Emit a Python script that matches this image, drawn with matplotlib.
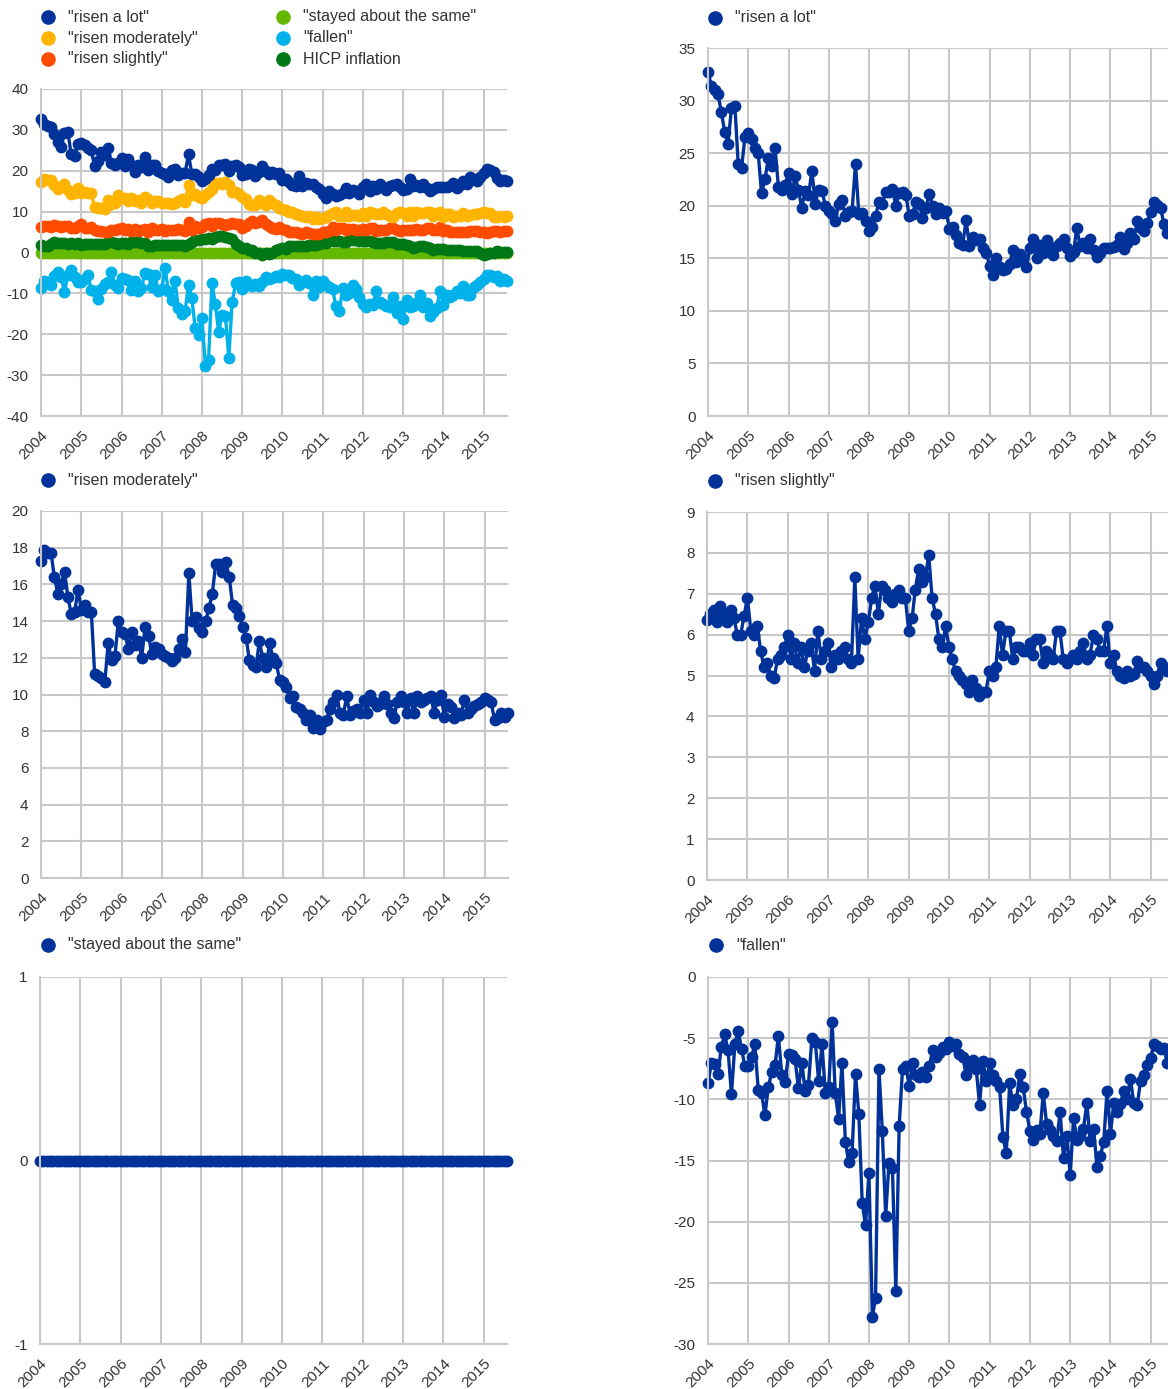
import numpy as np
import pandas as pd
import matplotlib
matplotlib.use("Agg")
import matplotlib.pyplot as plt
import matplotlib.transforms as mtransforms
from matplotlib.lines import Line2D

plt.rcParams['font.family'] = ['Liberation Sans', 'DejaVu Sans']

# monthly data, Jan 2004 - Aug 2015 (percentage balances)
dates = pd.date_range('2004-01-01', periods=140, freq='MS')
years = list(range(2004, 2016))

risen_a_lot = [
    32.7, 31.4, 31.0, 30.6, 28.9, 27.0, 25.9, 29.3, 29.5, 24.0, 23.6, 26.5,
    26.9, 26.3, 25.5, 25.0, 21.2, 22.5, 24.5, 23.8, 25.5, 21.8, 21.5, 22.0,
    23.1, 21.1, 22.8, 21.5, 19.8, 21.4, 21.0, 23.3, 20.2, 21.5, 21.4, 20.0,
    19.5, 19.2, 18.5, 20.2, 20.5, 19.0, 19.4, 19.5, 24.0, 19.2, 19.3, 18.5,
    17.6, 18.0, 19.0, 20.4, 20.2, 21.3, 21.3, 21.6, 20.0, 21.2, 21.3, 21.0,
    19.0, 19.2, 20.4, 20.2, 18.8, 19.8, 21.1, 20.0, 19.2, 19.8, 19.3, 19.5,
    17.8, 18.0, 17.2, 16.5, 16.3, 18.6, 16.2, 17.0, 16.7, 16.8, 16.0, 15.5,
    14.3, 13.4, 15.0, 14.2, 13.9, 14.0, 14.5, 15.8, 14.6, 15.4, 15.0, 14.2,
    16.0, 16.8, 15.0, 16.3, 15.5, 16.7, 16.0, 15.3, 16.2, 16.5, 16.8, 16.0,
    15.2, 15.6, 17.9, 16.2, 16.5, 16.0, 16.8, 15.8, 15.1, 15.5, 16.0, 16.0,
    16.0, 16.1, 16.3, 17.0, 15.9, 16.5, 17.4, 16.8, 18.5, 17.9, 17.6, 18.4,
    19.4, 20.4, 20.1, 19.8, 18.3, 17.4, 17.8, 17.6,
]

risen_moderately = [
    17.3, 17.9, 17.7, 17.7, 16.4, 15.5, 16.0, 16.7, 15.3, 14.4, 14.5, 15.7,
    14.6, 14.9, 14.5, 14.5, 11.1, 11.0, 10.9, 10.7, 12.8, 11.9, 12.1, 14.0,
    13.4, 13.3, 12.5, 13.4, 12.7, 12.9, 12.0, 13.7, 13.2, 12.2, 12.6, 12.5,
    12.2, 12.1, 12.0, 11.8, 12.0, 12.5, 13.0, 12.3, 16.6, 14.0, 14.2, 13.6,
    13.4, 14.0, 14.7, 15.5, 17.1, 17.1, 16.7, 17.2, 16.4, 14.9, 14.7, 14.3,
    13.7, 13.1, 11.9, 11.6, 11.5, 12.9, 12.0, 11.5, 12.8, 12.0, 11.7, 10.8,
    10.7, 10.4, 9.8, 9.9, 9.3, 9.2, 9.0, 8.6, 8.9, 8.2, 8.6, 8.1,
    8.5, 8.6, 9.2, 9.6, 10.0, 9.0, 8.9, 9.9, 8.9, 9.1, 9.2, 9.0,
    9.7, 9.0, 10.0, 9.6, 9.4, 9.5, 9.9, 9.5, 9.0, 8.7, 9.6, 9.9,
    9.6, 9.0, 9.8, 9.0, 9.9, 9.6, 9.7, 9.8, 9.9, 9.0, 9.7, 10.0,
    8.8, 9.5, 9.3, 8.7, 9.0, 8.9, 9.7, 9.0, 9.2, 9.4, 9.5, 9.6,
    9.8, 9.7, 9.6, 8.6, 8.7, 9.0, 8.8, 9.0,
]

risen_slightly = [
    6.35, 6.5, 6.6, 6.3, 6.7, 6.5, 6.3, 6.6, 6.4, 6.0, 6.0, 6.45,
    6.9, 6.1, 6.0, 6.2, 5.6, 5.2, 5.3, 5.0, 4.95, 5.4, 5.5, 5.7,
    6.0, 5.4, 5.8, 5.3, 5.7, 5.2, 5.6, 5.8, 5.1, 6.1, 5.4, 5.6,
    5.8, 5.2, 5.5, 5.4, 5.6, 5.7, 5.4, 5.3, 7.4, 5.4, 6.4, 5.9,
    6.3, 6.9, 7.2, 6.5, 7.2, 7.1, 6.9, 6.8, 7.0, 7.1, 6.9, 6.9,
    6.1, 6.4, 7.1, 7.6, 7.3, 7.4, 7.95, 6.9, 6.5, 5.9, 5.7, 6.2,
    5.7, 5.4, 5.1, 5.0, 4.9, 4.8, 4.6, 4.9, 4.7, 4.5, 4.6, 4.6,
    5.1, 5.0, 5.2, 6.2, 5.5, 6.1, 6.1, 5.4, 5.7, 5.7, 5.6, 5.6,
    5.8, 5.5, 5.9, 5.9, 5.3, 5.6, 5.5, 5.4, 6.1, 6.1, 5.4, 5.3,
    5.4, 5.5, 5.4, 5.6, 5.8, 5.4, 5.5, 6.0, 5.9, 5.6, 5.6, 6.2,
    5.3, 5.5, 5.1, 5.0, 4.95, 5.1, 5.0, 5.05, 5.35, 5.2, 5.2, 5.1,
    5.0, 4.8, 5.0, 5.3, 5.2, 5.1, 5.2, 5.2,
]

stayed_same = [
    0, 0, 0, 0, 0, 0, 0, 0, 0, 0, 0, 0,
    0, 0, 0, 0, 0, 0, 0, 0, 0, 0, 0, 0,
    0, 0, 0, 0, 0, 0, 0, 0, 0, 0, 0, 0,
    0, 0, 0, 0, 0, 0, 0, 0, 0, 0, 0, 0,
    0, 0, 0, 0, 0, 0, 0, 0, 0, 0, 0, 0,
    0, 0, 0, 0, 0, 0, 0, 0, 0, 0, 0, 0,
    0, 0, 0, 0, 0, 0, 0, 0, 0, 0, 0, 0,
    0, 0, 0, 0, 0, 0, 0, 0, 0, 0, 0, 0,
    0, 0, 0, 0, 0, 0, 0, 0, 0, 0, 0, 0,
    0, 0, 0, 0, 0, 0, 0, 0, 0, 0, 0, 0,
    0, 0, 0, 0, 0, 0, 0, 0, 0, 0, 0, 0,
    0, 0, 0, 0, 0, 0, 0, 0,
]

fallen = [
    -8.7, -7.0, -7.1, -7.9, -5.7, -4.7, -6.0, -9.6, -5.5, -4.4, -5.9, -7.3,
    -7.3, -6.5, -5.5, -9.2, -9.5, -11.3, -9.0, -7.8, -7.2, -4.8, -8.0, -8.6,
    -6.3, -6.4, -6.7, -9.1, -7.0, -9.3, -8.8, -5.0, -5.3, -8.5, -5.5, -9.5,
    -9.0, -3.7, -9.5, -11.6, -7.0, -13.5, -15.1, -14.4, -7.9, -11.2, -18.5, -20.3,
    -16.0, -27.8, -26.2, -7.5, -12.6, -19.5, -15.2, -15.6, -25.7, -12.2, -7.5, -7.3,
    -8.9, -7.0, -8.0, -8.2, -7.8, -8.2, -7.3, -6.0, -6.5, -6.2, -5.7, -5.9,
    -5.3, -5.6, -5.5, -6.3, -6.5, -8.0, -7.2, -6.8, -7.5, -10.5, -6.9, -8.5,
    -7.0, -8.0, -8.5, -9.0, -13.1, -14.4, -8.7, -10.5, -10.0, -7.9, -9.0, -11.0,
    -12.6, -13.3, -12.5, -12.8, -9.5, -12.0, -12.5, -13.0, -13.4, -11.0, -14.8, -13.0,
    -16.2, -11.5, -13.3, -13.0, -12.4, -10.3, -13.4, -12.4, -15.5, -14.6, -13.5, -9.3,
    -12.8, -10.3, -11.0, -10.4, -9.3, -10.0, -8.3, -10.3, -10.5, -8.5, -8.0, -7.2,
    -6.6, -5.5, -5.6, -5.9, -5.8, -7.0, -6.5, -7.0,
]

hicp = [
    1.9, 1.6, 1.7, 2.0, 2.5, 2.4, 2.3, 2.3, 2.1, 2.4, 2.2, 2.4,
    1.9, 2.1, 2.1, 2.1, 2.0, 2.1, 2.2, 2.2, 2.6, 2.5, 2.3, 2.2,
    2.4, 2.3, 2.2, 2.5, 2.5, 2.5, 2.4, 2.3, 1.7, 1.6, 1.9, 1.9,
    1.8, 1.8, 1.9, 1.9, 1.9, 1.9, 1.8, 1.7, 2.1, 2.6, 3.1, 3.1,
    3.2, 3.3, 3.6, 3.3, 3.7, 4.0, 4.0, 3.8, 3.6, 3.2, 2.1, 1.6,
    1.1, 1.2, 0.6, 0.6, 0.0, -0.1, -0.6, -0.2, -0.3, -0.1, 0.5, 0.9,
    1.0, 0.9, 1.6, 1.6, 1.7, 1.5, 1.7, 1.6, 1.9, 1.9, 1.9, 2.2,
    2.3, 2.4, 2.7, 2.8, 2.7, 2.7, 2.6, 2.6, 3.0, 3.0, 3.0, 2.7,
    2.7, 2.7, 2.7, 2.6, 2.4, 2.4, 2.4, 2.6, 2.6, 2.5, 2.2, 2.2,
    2.0, 1.8, 1.7, 1.2, 1.4, 1.6, 1.6, 1.3, 1.1, 0.7, 0.9, 0.8,
    0.8, 0.7, 0.5, 0.7, 0.5, 0.5, 0.4, 0.4, 0.3, 0.4, 0.3, -0.2,
    -0.6, -0.3, -0.1, 0.0, 0.3, 0.2, 0.2, 0.1,
]

labels = ['"risen a lot"', '"risen moderately"', '"risen slightly"',
          '"stayed about the same"', '"fallen"', 'HICP inflation']
colors = ['#003299', '#ffb400', '#ff4b00', '#65b800', '#00b1ea', '#007816']

DARK = '#003299'
GRID = '#c8c8c8'
TEXT = '#333333'

W, H = 1168, 1389
fig = plt.figure(figsize=(W / 100, H / 100), dpi=100)


def box(left, top, right, bottom):
    return [left / W, 1 - bottom / H, (right - left) / W, (bottom - top) / H]


def style(ax, yticks):
    ax.set_ylim(yticks[0], yticks[-1])
    ax.set_yticks(yticks)
    ax.set_yticklabels([str(t) for t in yticks])
    ax.set_xlim(dates[0], dates[-1])
    ax.set_xticks(pd.to_datetime([f'{y}-01-01' for y in years]))
    ax.set_xticklabels([str(y) for y in years], rotation=45, ha='right',
                       va='top', rotation_mode='anchor')
    offset = mtransforms.ScaledTranslation(5 / 100, 0, fig.dpi_scale_trans)
    for lab in ax.get_xticklabels():
        lab.set_transform(lab.get_transform() + offset)
    ax.grid(True, color=GRID, lw=1.5)
    ax.set_axisbelow(True)
    for s in ['top', 'right']:
        ax.spines[s].set_visible(False)
    for s in ['left', 'bottom']:
        ax.spines[s].set_color(GRID)
        ax.spines[s].set_linewidth(1.5)
    ax.tick_params(axis='both', length=0, labelsize=11, colors=TEXT)
    ax.tick_params(axis='y', pad=9)
    ax.tick_params(axis='x', pad=9)


def legend_item(x, y, color, label):
    fig.add_artist(Line2D([x / W], [1 - y / H], marker='o', ms=9.5, lw=0,
                          color=color, transform=fig.transFigure))
    fig.text((x + 20) / W, 1 - y / H, label, va='center', ha='left',
             fontsize=11.5, color=TEXT)


def series(ax, values, color):
    ax.plot(dates, values, '-o', color=color, lw=2.4, ms=7.5, clip_on=False)


# panel 1: all series together
ax1 = fig.add_axes(box(41, 89, 507, 416))
all_series = [risen_a_lot, risen_moderately, risen_slightly, stayed_same, fallen, hicp]
for i in [4, 3, 5, 2, 1, 0]:
    series(ax1, all_series[i], colors[i])
style(ax1, list(range(-40, 41, 10)))
for i in range(6):
    col, row = divmod(i, 3)
    legend_item(48 + col * 235, 17 + row * 21, colors[i], labels[i])

# single-series panels
panels = [
    (risen_a_lot, labels[0], (708, 48, 1174, 416), list(range(0, 36, 5)), (715, 18)),
    (risen_moderately, labels[1], (41, 511, 508, 878), list(range(0, 21, 2)), (48, 480)),
    (risen_slightly, labels[2], (707, 512, 1174, 880), list(range(0, 10)), (715, 481)),
    (stayed_same, labels[3], (40, 977, 507, 1344), [-1, 0, 1], (48, 945)),
    (fallen, labels[4], (708, 977, 1174, 1344), list(range(-30, 1, 5)), (716, 945)),
]
for values, label, pos, yticks, leg in panels:
    ax = fig.add_axes(box(*pos))
    series(ax, values, DARK)
    style(ax, yticks)
    legend_item(leg[0], leg[1], DARK, label)

fig.savefig('out.png', dpi=100)
